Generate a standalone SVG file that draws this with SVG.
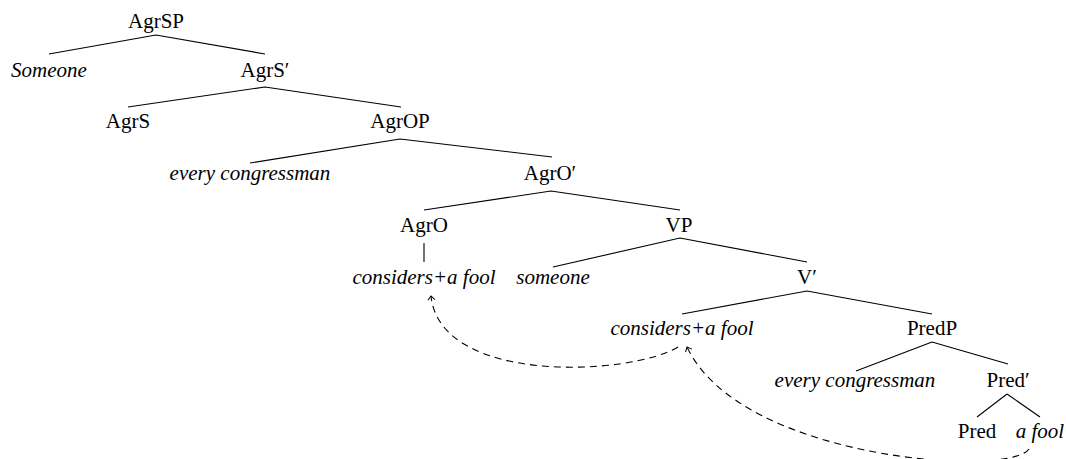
<svg xmlns="http://www.w3.org/2000/svg" width="1066" height="459" viewBox="0 0 1066 459">
<style>
text{font-size:21px;fill:#000;text-anchor:middle}
.i{font-style:italic}
.e{stroke:#000;stroke-width:1.1;fill:none}
.d{stroke:#000;stroke-width:1.1;fill:none;stroke-dasharray:7,5}
</style>
<defs>
<marker id="ah" viewBox="-6 -5 8 10" markerWidth="8" markerHeight="10" refX="0" refY="0" orient="auto" markerUnits="userSpaceOnUse">
<path d="M-4,-3.5 L0,0 L-4,3.5" fill="none" stroke="#000" stroke-width="1"/>
</marker>
</defs>
<g id="connectors">
<path class="e" d="M156,35 L49,54 M156,35 L265,54"/>
<path class="e" d="M265,87 L128,107 M265,87 L401,107"/>
<path class="e" d="M400,139 L250,163 M400,139 L552,157"/>
<path class="e" d="M551,191 L424,210 M551,191 L680,210"/>
<path class="e" d="M424,243 L424,262"/>
<path class="e" d="M680,238 L553,267 M680,238 L807,262"/>
<path class="e" d="M807,291 L682,314 M807,291 L932,314"/>
<path class="e" d="M932,342 L856,371 M932,342 L1008,364"/>
<path class="e" d="M1007,394 L977,417 M1007,394 L1040,417"/>
<path class="d" d="M678,347 C630,376 440,385 431,296" marker-end="url(#ah)"/>
<path class="d" d="M1029,449 C1010,478 740,460 687,347" marker-end="url(#ah)"/>
</g>
<g font-family="Liberation Serif, Times New Roman, serif">
<g id="AgrSP"><text x="156" y="28">AgrSP</text></g>
<g id="Someone"><text class="i" x="49" y="77">Someone</text></g>
<g id="AgrSbar"><text x="265" y="77">AgrS′</text></g>
<g id="AgrS"><text x="128" y="128">AgrS</text></g>
<g id="AgrOP"><text x="400" y="128">AgrOP</text></g>
<g id="every1"><text class="i" x="250" y="180">every congressman</text></g>
<g id="AgrObar"><text x="550" y="180">AgrO′</text></g>
<g id="AgrO"><text x="424" y="232">AgrO</text></g>
<g id="VP"><text x="679" y="232">VP</text></g>
<g id="considers1"><text class="i" x="424" y="284">considers+a fool</text></g>
<g id="someone"><text class="i" x="553" y="284">someone</text></g>
<g id="Vbar"><text x="807" y="284">V′</text></g>
<g id="considers2"><text class="i" x="682" y="335">considers+a fool</text></g>
<g id="PredP"><text x="932" y="335">PredP</text></g>
<g id="every2"><text class="i" x="855" y="387">every congressman</text></g>
<g id="Predbar"><text x="1008" y="387">Pred′</text></g>
<g id="Pred"><text x="977" y="438">Pred</text></g>
<g id="afool"><text class="i" x="1040" y="438">a fool</text></g>
</g>
</svg>
